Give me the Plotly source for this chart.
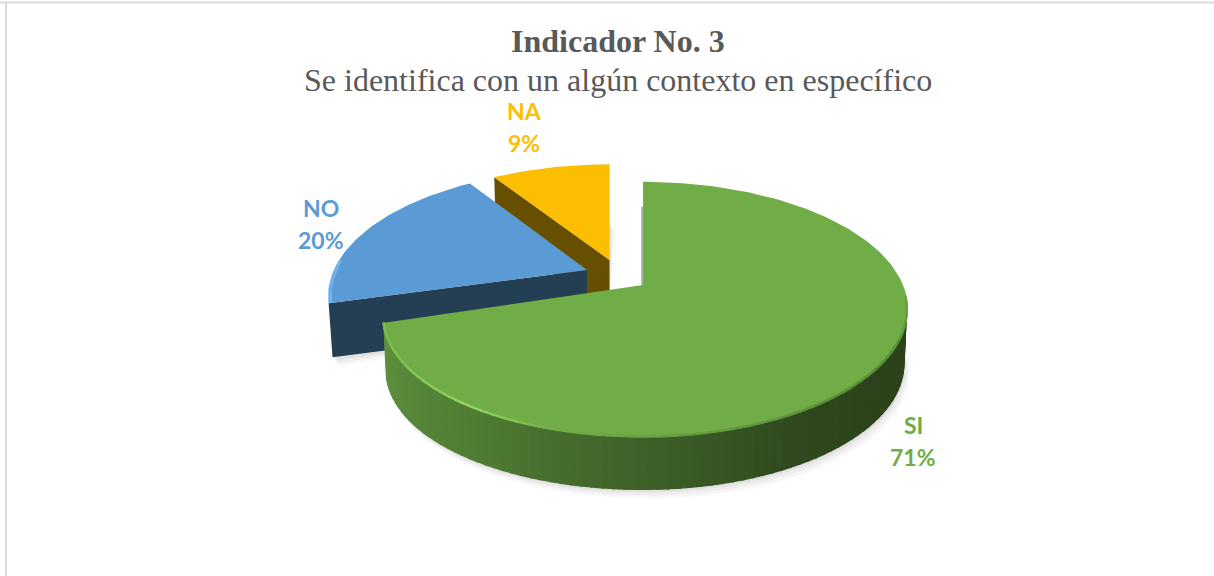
import numpy as np
import plotly.graph_objects as go

categories = ["SI", "NO", "NA"]
values = [71, 20, 9]
top_colors = ["#70AD47", "#5B9BD5", "#FCBE00"]
side_colors = ["#2C431B", "#243E54", "#665000"]

title_text = "Indicador No. 3"
subtitle_text = "Se identifica con un algún contexto en específico"

W, H = 1214, 576
P = 0.192
# per-slice placement of the exploded wedge (apex, radii) on the pixel-scaled axes
GEOM = {
    "SI": dict(cx=643, cy=285, a=260, b=123, left=0.985, sag=6.5),
    "NO": dict(cx=587, cy=270, a=254, b=120, left=1.0, sag=2.0),
    "NA": dict(cx=609.5, cy=260, a=250, b=114, left=1.0, sag=0.0),
}
DEPTH = 54.5
BOTTOM_SCALE = 0.985
LABELS = {"SI": (913, 425), "NO": (321, 208), "NA": (524, 111)}
LINE_GAP = 32


def proj(g, theta, r=1.0, lower=False):
    u, v = r * np.sin(theta), r * np.cos(theta)
    u = np.where(u < 0, u * g["left"], u)
    w = 1 + P * v
    s = BOTTOM_SCALE if lower else 1.0
    x = g["cx"] + s * g["a"] * u / w
    y = g["cy"] - s * g["b"] * v / w + (DEPTH if lower else 0)
    y = y + g["sag"] * np.where(u < 0, u, 0.0) ** 2
    return x, y


def poly(x, y, color, opacity=1.0, edge=0):
    x, y = list(x), list(y)
    return go.Scatter(x=x + x[:1], y=y + y[:1], mode="lines", fill="toself",
                      fillcolor=color, line=dict(width=edge, color=color),
                      opacity=opacity, hoverinfo="skip", showlegend=False)


def seg(x, y, color, width, opacity=1.0):
    return go.Scatter(x=list(x), y=list(y), mode="lines", opacity=opacity,
                      line=dict(color=color, width=width),
                      hoverinfo="skip", showlegend=False)


def lerp_color(stops, t):
    ts = [s[0] for s in stops]
    rgb = [np.interp(t, ts, [s[1][i] for s in stops]) for i in range(3)]
    return "rgb(%d,%d,%d)" % tuple(int(round(c)) for c in rgb)


fractions = np.cumsum([0] + values) / sum(values)
angles = {c: (fractions[i] * 2 * np.pi, fractions[i + 1] * 2 * np.pi)
          for i, c in enumerate(categories)}

traces = []


def shadow(cat, t0, t1):
    g = GEOM[cat]
    t = np.linspace(t0, t1, 120)
    for grow, op in [(9, 0.03), (6, 0.04), (3, 0.05)]:
        x, y = proj(g, t, lower=True)
        x0, y0 = proj(g, np.array(t0), r=0.0, lower=True)
        traces.append(poly(np.r_[x0, x + grow * 0.6], np.r_[y0, y + grow], "#000000", op))


# soft shadows
shadow("NA", *angles["NA"])
shadow("NO", *angles["NO"])
shadow("SI", *angles["SI"])

# NA wedge
g = GEOM["NA"]
t0, t1 = angles["NA"]
x0, y0 = proj(g, np.array(t0))
xc, yc = proj(g, np.array(t0), r=0.0)
xl, yl = proj(g, np.array(t0), lower=True)
xcl, ycl = proj(g, np.array(t0), r=0.0, lower=True)
traces.append(poly([x0, xc, xcl, xl], [y0, yc, ycl, yl], side_colors[2]))
t = np.linspace(t0, t1, 40)
x, y = proj(g, t)
traces.append(poly(np.r_[xc, x], np.r_[yc, y], top_colors[2]))

# NO wedge
g = GEOM["NO"]
t0, t1 = angles["NO"]
x0, y0 = proj(g, np.array(t0))
xc, yc = proj(g, np.array(t0), r=0.0)
xl, yl = proj(g, np.array(t0), lower=True)
xcl, ycl = proj(g, np.array(t0), r=0.0, lower=True)
traces.append(poly([x0, xc, xcl, xl], [y0, yc, ycl, yl], side_colors[1]))
t = np.linspace(t0, t1, 60)
x, y = proj(g, t)
traces.append(poly(np.r_[xc, x], np.r_[yc, y], top_colors[1]))
tb = np.linspace(t0, t0 + 0.35, 14)
xb, yb = proj(g, tb, r=0.992)
traces.append(seg(xb, yb, "#6DB3F2", 3))

# SI wedge: shaded rim built from short quads
g = GEOM["SI"]
t0, t1 = angles["SI"]
side_stops = [
    (np.radians(130), (44, 67, 27)),
    (np.radians(150), (47, 72, 29)),
    (np.radians(180), (62, 97, 40)),
    (np.radians(215), (80, 125, 52)),
    (np.radians(256), (96, 146, 63)),
]
edges = np.linspace(np.radians(97), t1, 80)
for a0, a1 in zip(edges[:-1], edges[1:]):
    tt = np.array([a0, a1 + 0.004])
    xa, ya = proj(g, tt, r=0.995)
    xb, yb = proj(g, tt[::-1], lower=True)
    traces.append(poly(np.r_[xa, xb], np.r_[ya, yb], lerp_color(side_stops, (a0 + a1) / 2), edge=1.2))

# thin dark shade along the straight back edge of the SI wedge
xs, ys = proj(g, np.array(t0))
xc, yc = proj(g, np.array(t0), r=0.0)
traces.append(seg([xs - 1, xc - 1], [ys + 25, yc], "#3B5E25", 1.2, 0.7))

t = np.linspace(t0, t1, 200)
x, y = proj(g, t)
traces.append(poly(np.r_[xc, x], np.r_[yc, y], top_colors[0]))

# rim highlights on the SI wedge
rim_stops = [
    (np.radians(95), (105, 165, 67)),
    (np.radians(125), (88, 140, 57)),
    (np.radians(160), (95, 150, 62)),
    (np.radians(195), (112, 173, 71)),
    (np.radians(215), (148, 214, 100)),
    (np.radians(240), (125, 190, 80)),
    (np.radians(256), (125, 190, 80)),
]
edges = np.linspace(np.radians(95), t1, 60)
for a0, a1 in zip(edges[:-1], edges[1:]):
    xa, ya = proj(g, np.array([a0, a1 + 0.004]), r=0.996)
    traces.append(seg(xa, ya, lerp_color(rim_stops, (a0 + a1) / 2), 2.5))

fig = go.Figure(traces)

annotations = []
for cat, val, col in zip(categories, values, top_colors):
    lx, ly = LABELS[cat]
    for k, line in enumerate([cat, f"{val}%"]):
        annotations.append(dict(x=lx, y=ly + k * LINE_GAP, text=f"<b>{line}</b>", showarrow=False,
                                xref="x", yref="y", xanchor="center", yanchor="middle",
                                font=dict(family="Lato", size=23, color=col)))
annotations.append(dict(x=618, y=41, text=f"<b>{title_text}</b>", showarrow=False, xref="x", yref="y",
                        xanchor="center", yanchor="middle",
                        font=dict(family="Liberation Serif", size=32, color="#595959")))
annotations.append(dict(x=618, y=80, text=subtitle_text, showarrow=False, xref="x", yref="y",
                        xanchor="center", yanchor="middle",
                        font=dict(family="Liberation Serif", size=32, color="#595959")))

frame = [
    dict(type="line", xref="x", yref="y", x0=0, x1=W, y0=2.5, y1=2.5, line=dict(color="#D9D9D9", width=2)),
    dict(type="line", xref="x", yref="y", x0=6, x1=6, y0=2.5, y1=H, line=dict(color="#D9D9D9", width=2)),
]

fig.update_layout(
    width=W, height=H, margin=dict(l=0, r=0, t=0, b=0), autosize=False,
    paper_bgcolor="white", plot_bgcolor="white", showlegend=False,
    xaxis=dict(range=[0, W], visible=False, fixedrange=True),
    yaxis=dict(range=[H, 0], visible=False, fixedrange=True),
    annotations=annotations, shapes=frame,
)
fig.write_html("out.html", config={"displayModeBar": False},
               default_width="1214px", default_height="576px",
               post_script="document.body.style.margin='0';")
